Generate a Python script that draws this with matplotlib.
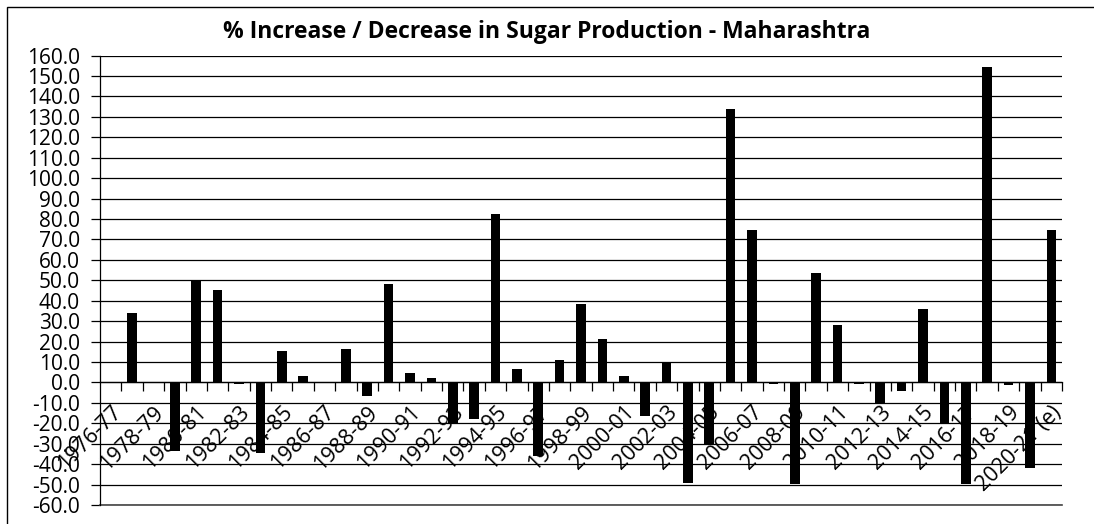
import matplotlib
matplotlib.use("Agg")
import matplotlib.pyplot as plt
from matplotlib.patches import Rectangle

plt.rcParams['font.family'] = ['Open Sans', 'DejaVu Sans']

seasons = [f"{y}-{str(y + 1)[-2:]}" for y in range(1976, 2020)] + ["2020-21 (e)"]
pct_change = [0.0, 34.0, 0.0, -33.8, 49.5, 45.0, -1.0, -34.5, 15.5, 3.3,
              0.0, 16.4, -6.5, 48.2, 4.6, 2.1, -20.4, -18.1, 82.2, 6.6,
              -35.9, 11.1, 38.4, 21.3, 3.3, -16.3, 9.8, -49.0, -30.5, 133.7,
              74.4, -1.0, -49.8, 53.6, 28.3, -1.0, -10.6, -4.1, 36.0, -20.4,
              -49.8, 154.4, -1.2, -42.0, 74.4]
yticks = list(range(-60, 161, 10))
title = "% Increase / Decrease in Sugar Production - Maharashtra"

W, H = 1094, 524
fig = plt.figure(figsize=(W / 100, H / 100), dpi=100)
ax = fig.add_axes([100 / W, (H - 505) / H, 962 / W, (505 - 55.5) / H])

n = len(seasons)
x = list(range(n))
ax.bar(x, pct_change, width=0.45, color='black', zorder=3)

ax.set_xlim(-0.5, n - 0.5)
ax.set_ylim(-60, 160)
ax.set_yticks(yticks)
ax.set_yticklabels([f"{v:.1f}" for v in yticks], fontsize=15)
ax.yaxis.grid(True, color='black', linewidth=0.9, zorder=1)
ax.tick_params(axis='y', length=6.5, width=0.9, pad=8, colors='black')

# x axis crossing at zero
ax.spines['bottom'].set_position(('data', 0))
ax.spines['bottom'].set_linewidth(0.9)
ax.spines['top'].set_visible(False)
ax.spines['right'].set_visible(False)
ax.spines['left'].set_linewidth(0.9)
ax.set_xticks([i for i in x if i % 2 == 0])
ax.set_xticklabels([seasons[i] for i in x if i % 2 == 0], fontsize=15.5,
                   rotation=45, ha='right', va='top', rotation_mode='anchor')
ax.set_xticks([i - 0.5 for i in range(1, n + 1)], minor=True)
ax.tick_params(axis='x', which='major', length=0, pad=14)
ax.tick_params(axis='x', which='minor', length=6.5, width=0.9)
ax.axhline(-60, color='#444444', linewidth=1.2, zorder=2, clip_on=False)

fig.text(0.5, 1 - 32 / H, title, ha='center', va='center',
         fontsize=16.5, fontweight='bold')

fig.patches.append(Rectangle((7 / W, -0.1), 1.2, 1 - 7 / H + 0.1,
                             transform=fig.transFigure, fill=False,
                             edgecolor='black', linewidth=1.0))

fig.savefig("out.png", dpi=100)
